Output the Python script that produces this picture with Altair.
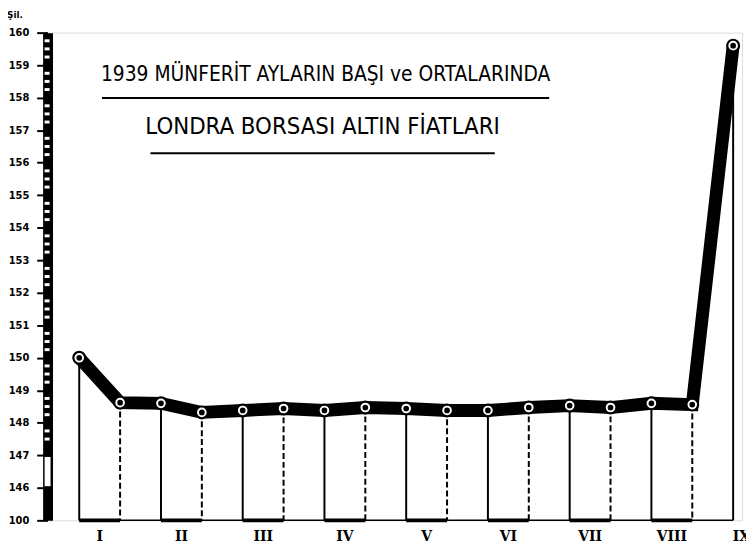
import altair as alt
import pandas as pd

# ---- data ----
months = ["I", "II", "III", "IV", "V", "VI", "VII", "VIII", "IX"]
start_prices = [150.0, 148.6, 148.38, 148.38, 148.44, 148.38, 148.53, 148.6, 159.6]
mid_prices = [148.62, 148.32, 148.44, 148.47, 148.38, 148.47, 148.47, 148.56]
y_ticks = [145, 146, 147, 148, 149, 150, 151, 152, 153, 154, 155, 156, 157, 158, 159, 160]
title_lines = ["1939 MÜNFERİT AYLARIN BAŞI ve ORTALARINDA", "LONDRA BORSASI  ALTIN FİATLARI"]
unit_label = "Şil."
axis_floor = 145
axis_floor_label = "100"

rows = []
for i, m in enumerate(months):
    rows.append({"month": m, "pos": i + 1.0, "part": "start", "price": start_prices[i], "base": axis_floor})
    if i < len(mid_prices):
        rows.append({"month": m, "pos": i + 1.5, "part": "mid", "price": mid_prices[i], "base": axis_floor})
df = pd.DataFrame(rows)
month_df = pd.DataFrame({"month": months, "pos": [float(i + 1) for i in range(len(months))]})
ruler_df = pd.DataFrame({"v": [k / 4 for k in range(590, 640) if k % 4 != 0]})

W, H = 702, 493
xs = alt.Scale(domain=[0.6127, 9.1089], nice=False, zero=False)
ys = alt.Scale(domain=[145, 160], nice=False, zero=False)
yaxis = alt.Axis(
    values=y_ticks,
    labelExpr=f"datum.value == {axis_floor} ? '{axis_floor_label}' : datum.label",
    domainWidth=10, domainColor="black", tickSize=11, tickWidth=2, tickColor="black",
    labelPadding=8, labelFont="DejaVu Sans", labelFontWeight="bold", labelFontSize=10,
    labelColor="black", grid=False, title=None)
TITLE_FONT = "DejaVu Sans Condensed, Liberation Sans Narrow, Roboto Condensed, Noto Sans"


def Y(field):
    return alt.Y(field, scale=ys, axis=yaxis)


def X(field):
    return alt.X(field, scale=xs, axis=None)


base = alt.Chart(df)

line = base.mark_line(color="black", strokeWidth=13, strokeJoin="miter").encode(
    x=X("pos:Q"), y=Y("price:Q"), order="pos:Q")

solid = base.transform_filter("datum.part == 'start'").mark_rule(color="black", strokeWidth=2).encode(
    x=X("pos:Q"), y=Y("price:Q"), y2="base:Q")
dashed = base.transform_filter("datum.part == 'mid'").mark_rule(
    color="black", strokeWidth=2, strokeDash=[6, 3]).encode(
    x=X("pos:Q"), y=Y("price:Q"), y2="base:Q")
bottom_bars = base.transform_filter("datum.part == 'mid'").transform_calculate(
    s="datum.pos - 0.5").mark_rule(color="black", strokeWidth=4).encode(
    x=X("s:Q"), x2="pos:Q", y=Y("base:Q"))
baseline = base.transform_aggregate(lo="min(pos)", hi="max(pos)").transform_calculate(
    b=str(axis_floor)).mark_rule(color="black", strokeWidth=1.5).encode(
    x=X("lo:Q"), x2="hi:Q", y=Y("b:Q"))

disk = base.mark_circle(color="black", size=200, opacity=1).encode(x=X("pos:Q"), y=Y("price:Q"))
ring = base.mark_point(shape="circle", filled=False, stroke="white", strokeWidth=2, size=60, opacity=1).encode(
    x=X("pos:Q"), y=Y("price:Q"))

ruler = alt.Chart(ruler_df).mark_rule(color="white", strokeWidth=3).encode(
    x=alt.value(-3), x2=alt.value(2), y=Y("v:Q"))
brk = alt.Chart(pd.DataFrame({"a": [146.05], "b": [146.95]})).mark_rect(color="white").encode(
    x=alt.value(-3), x2=alt.value(3), y=Y("a:Q"), y2="b:Q")

labels = alt.Chart(month_df).transform_calculate(
    lx="min(datum.pos + 0.25, 9.1)").mark_text(
    font="DejaVu Serif", fontWeight="bold", fontSize=14, baseline="middle", color="black").encode(
    x=X("lx:Q"), y=alt.value(510), text="month:N")

t1 = alt.Chart(pd.DataFrame({"t": [title_lines[0]]})).mark_text(
    font=TITLE_FONT, fontSize=21, baseline="middle", color="black").encode(
    x=alt.value(281), y=alt.value(43), text="t:N")
t2 = alt.Chart(pd.DataFrame({"t": [title_lines[1]]})).mark_text(
    font=TITLE_FONT, fontSize=24, baseline="middle", color="black").encode(
    x=alt.value(278), y=alt.value(95), text="t:N")
u1 = alt.Chart(pd.DataFrame({"t": [0]})).mark_rule(color="black", strokeWidth=2).encode(
    x=alt.value(55), x2=alt.value(507), y=alt.value(66))
u2 = alt.Chart(pd.DataFrame({"t": [0]})).mark_rule(color="black", strokeWidth=2).encode(
    x=alt.value(104), x2=alt.value(452), y=alt.value(122))
unit = alt.Chart(pd.DataFrame({"t": [unit_label]})).mark_text(
    font="DejaVu Sans", fontWeight="bold", fontSize=9, align="left", baseline="middle", color="black").encode(
    x=alt.value(-41), y=alt.value(-18), text="t:N")

chart = alt.layer(
    baseline, bottom_bars, solid, dashed, line, disk, ring, ruler, brk, labels, t1, t2, u1, u2, unit
).properties(
    width=W, height=H, autosize="none",
    padding={"left": 40, "top": 22, "right": 4, "bottom": 22},
).configure_view(stroke=None).configure(background="white")

chart.save("out.html", embed_options={"renderer": "svg", "actions": False})
